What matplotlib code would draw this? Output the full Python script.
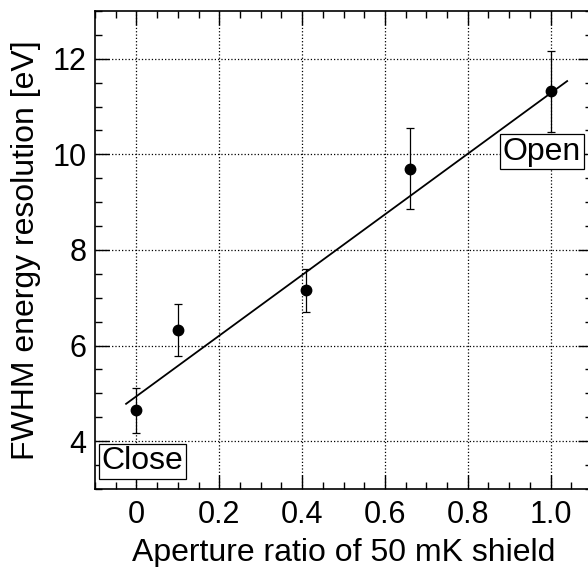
import numpy as np
import matplotlib
matplotlib.use("Agg")
import matplotlib.pyplot as plt
from matplotlib.ticker import MultipleLocator

# measured points (aperture ratio, FWHM [eV], error [eV])
aperture = [0.0, 0.1, 0.41, 0.66, 1.0]
fwhm = [4.65, 6.33, 7.16, 9.70, 11.32]
fwhm_err = [0.47, 0.55, 0.45, 0.85, 0.85]

# linear fit: fwhm = intercept + slope * aperture
fit_intercept = 4.94
fit_slope = 6.34
fit_range = [-0.025, 1.04]

plt.rcParams['font.family'] = ['Liberation Sans', 'DejaVu Sans']

fig = plt.figure(figsize=(5.88, 5.67), dpi=100)
ax = fig.add_axes([0.1616, 0.1376, 0.8452, 0.843])

ax.grid(True, which='major', color='black', linestyle=':', linewidth=0.9)
ax.set_axisbelow(True)

fit_x = np.array(fit_range)
ax.plot(fit_x, fit_intercept + fit_slope * fit_x, color='black', linewidth=1.3)

ax.errorbar(aperture, fwhm, yerr=fwhm_err, fmt='o', color='black',
            markersize=7.5, elinewidth=0.9, capsize=3, capthick=0.9)

ax.set_xlim(-0.1, 1.1)
ax.set_ylim(3, 13)
ax.xaxis.set_major_locator(MultipleLocator(0.2))
ax.xaxis.set_minor_locator(MultipleLocator(0.05))
ax.yaxis.set_major_locator(MultipleLocator(2))
ax.yaxis.set_minor_locator(MultipleLocator(0.5))
ax.set_xticks([0, 0.2, 0.4, 0.6, 0.8, 1.0])
ax.set_xticklabels(['0', '0.2', '0.4', '0.6', '0.8', '1.0'])

ax.tick_params(which='both', direction='in', top=True, right=True, width=1.0)
ax.tick_params(which='major', length=10, labelsize=22)
ax.tick_params(which='minor', length=5)
ax.tick_params(axis='x', pad=8)
ax.tick_params(axis='y', pad=6)
for s in ax.spines.values():
    s.set_linewidth(1.2)

ax.set_xlabel('Aperture ratio of 50 mK shield', fontsize=23, labelpad=6)
ax.set_ylabel('FWHM energy resolution [eV]', fontsize=23, labelpad=8)

box = dict(boxstyle='square,pad=0.08', facecolor='white', edgecolor='black', linewidth=0.9)
ax.text(0.014, 3.58, 'Close', fontsize=23, ha='center', va='center', bbox=box)
ax.text(0.979, 10.06, 'Open', fontsize=23, ha='center', va='center', bbox=box)

fig.savefig('out.png', dpi=100)
